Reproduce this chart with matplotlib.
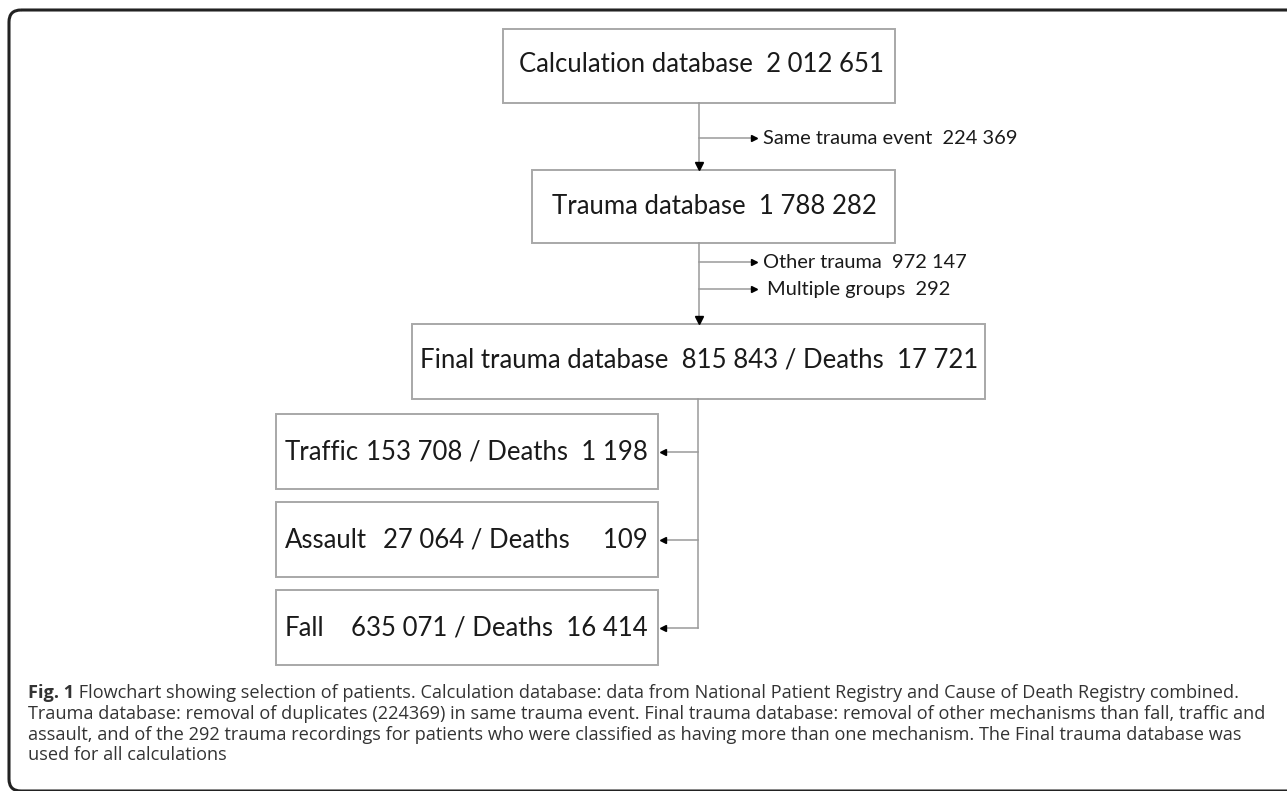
import matplotlib
matplotlib.use("Agg")
import matplotlib.pyplot as plt
from matplotlib.patches import Rectangle, FancyBboxPatch

# counts
calc_total = 2012651
same_event = 224369
trauma_total = 1788282
other_trauma = 972147
multiple_groups = 292
final_total = 815843
final_deaths = 17721
mechanisms = ["Traffic", "Assault", "Fall"]
mech_counts = [153708, 27064, 635071]
mech_deaths = [1198, 109, 16414]

caption_lines = [
    "Flowchart showing selection of patients. Calculation database: data from National Patient Registry and Cause of Death Registry combined.",
    "Trauma database: removal of duplicates (224369) in same trauma event. Final trauma database: removal of other mechanisms than fall, traffic and",
    "assault, and of the 292 trauma recordings for patients who were classified as having more than one mechanism. The Final trauma database was",
    "used for all calculations",
]


def fmt(n):
    """thousands separated by a space"""
    return f"{n:,}".replace(",", " ")


BOX_FONT = "Lato"
CAP_FONT = "Open Sans"
box_fs = 18.5
side_fs = 14.4
cap_fs = 13.1
line_col = "#9a9a9a"
text_col = "#1a1a1a"

fig = plt.figure(figsize=(12.87, 7.91), dpi=100)
ax = fig.add_axes([0, 0, 1, 1])
ax.set_xlim(0, 1287)
ax.set_ylim(791, 0)
ax.axis("off")

# outer frame, open on the right
frame = FancyBboxPatch((9, 10), 1320, 781, boxstyle="round,pad=0,rounding_size=12",
                       fill=False, edgecolor="#222222", linewidth=2.2)
ax.add_patch(frame)


def box(x0, y0, x1, y1):
    ax.add_patch(Rectangle((x0, y0), x1 - x0, y1 - y0, fill=False,
                           edgecolor="#a8a8a8", linewidth=1.4))


def head_right(x, y):
    ax.plot([x - 3], [y], marker=">", markersize=5, color="black", linestyle="none")


def head_left(x, y):
    ax.plot([x + 3], [y], marker="<", markersize=5, color="black", linestyle="none")


def head_down(x, y):
    ax.plot([x], [y - 3], marker="v", markersize=6, color="black", linestyle="none")


def side_arrow(xv, y, label, tx):
    ax.plot([xv, 756], [y, y], color=line_col, lw=1.1)
    head_right(757, y)
    ax.text(tx, y, label, fontsize=side_fs, family=BOX_FONT, color=text_col, va="center")


# top boxes
box(503, 29, 895, 103)
ax.text(519, 64, f"Calculation database  {fmt(calc_total)}", fontsize=box_fs,
        family=BOX_FONT, color=text_col, va="center")

ax.plot([699, 699], [103, 166], color=line_col, lw=1.1)
head_down(699, 169)
side_arrow(699, 138, f"Same trauma event  {fmt(same_event)}", 763)

box(532, 170, 895, 243)
ax.text(714, 206, f"Trauma database  {fmt(trauma_total)}", fontsize=box_fs,
        family=BOX_FONT, color=text_col, va="center", ha="center")

ax.plot([699, 699], [243, 320], color=line_col, lw=1.1)
head_down(699, 323)
side_arrow(699, 262, f"Other trauma  {fmt(other_trauma)}", 763)
side_arrow(699, 289, f"Multiple groups  {fmt(multiple_groups)}", 767)

box(412, 324, 985, 399)
ax.text(420, 360, f"Final trauma database  {fmt(final_total)} / Deaths  {fmt(final_deaths)}",
        fontsize=box_fs, family=BOX_FONT, color=text_col, va="center")

# mechanism boxes
row_y = [452, 540, 628]
mid_txt = [f"{fmt(mech_counts[0])} / Deaths  {fmt(mech_deaths[0])}",
           f"{fmt(mech_counts[1])} / Deaths     {fmt(mech_deaths[1])}",
           f"{fmt(mech_counts[2])} / Deaths  {fmt(mech_deaths[2])}"]
ax.plot([698, 698], [399, row_y[-1]], color=line_col, lw=1.1)
for name, txt, yc in zip(mechanisms, mid_txt, row_y):
    box(276, yc - 38, 658, yc + 37)
    ax.text(285, yc, name, fontsize=box_fs, family=BOX_FONT, color=text_col, va="center")
    ax.text(648, yc, txt, fontsize=box_fs, family=BOX_FONT, color=text_col,
            va="center", ha="right")
    ax.plot([663, 698], [yc, yc], color=line_col, lw=1.1)
    head_left(660, yc)

# caption
cap_y = [693, 714, 734.5, 755]
t = ax.text(28, cap_y[0], "Fig. 1", fontsize=cap_fs, family=CAP_FONT, weight="bold",
            color="#333333", va="center")
ax.annotate(" " + caption_lines[0], xycoords=t, xy=(1, 0.5), va="center",
            fontsize=cap_fs, family=CAP_FONT, color="#333333")
for line, yy in zip(caption_lines[1:], cap_y[1:]):
    ax.text(28, yy, line, fontsize=cap_fs, family=CAP_FONT, color="#333333", va="center")

fig.savefig("out.png", dpi=100)
